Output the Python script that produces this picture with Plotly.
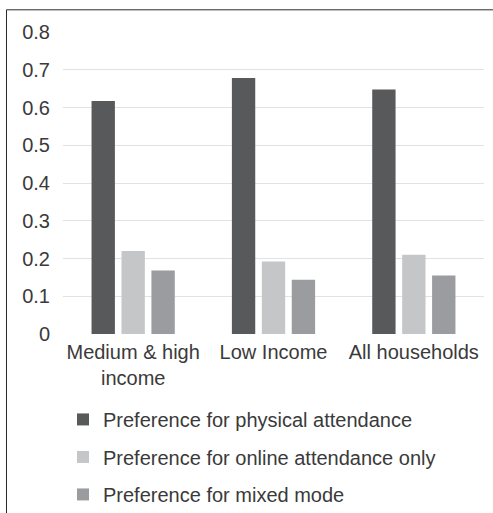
import plotly.graph_objects as go

# Household groups on the x axis
categories = ["Medium & high<br>income", "Low Income", "All households"]

# Share of households by attendance preference
physical = [0.617, 0.678, 0.648]
online_only = [0.220, 0.192, 0.210]
mixed = [0.168, 0.144, 0.155]

series_names = [
    "Preference for physical attendance",
    "Preference for online attendance only",
    "Preference for mixed mode",
]
series_values = [physical, online_only, mixed]
series_colors = ["#58595b", "#c5c6c8", "#9b9c9f"]

y_ticks = [0, 0.1, 0.2, 0.3, 0.4, 0.5, 0.6, 0.7, 0.8]
y_tick_text = ["0", "0.1", "0.2", "0.3", "0.4", "0.5", "0.6", "0.7", "0.8"]

fig = go.Figure()
for i, (name, vals, col) in enumerate(zip(series_names, series_values, series_colors)):
    fig.add_trace(go.Bar(
        x=categories, y=vals, name=name,
        marker=dict(color=col, line=dict(width=0)),
        legendgroup=f"g{i}",
    ))

text_color = "#3a3a3a"
font_family = "Liberation Sans, Arial, sans-serif"

fig.update_layout(
    width=493, height=513,
    margin=dict(l=63, r=9, t=32, b=179, autoexpand=False),
    paper_bgcolor="white", plot_bgcolor="white",
    barmode="group", bargap=0.36, bargroupgap=0.22,
    font=dict(family=font_family, size=20, color=text_color),
    showlegend=True,
    legend=dict(
        orientation="v",
        x=0.0, xanchor="left",
        y=(334 - 400) / 302.3, yanchor="top",
        font=dict(size=20, color=text_color),
        itemwidth=30, tracegroupgap=8.5,
        bgcolor="rgba(0,0,0,0)",
        itemclick=False, itemdoubleclick=False,
    ),
    xaxis=dict(
        showgrid=False, zeroline=False, showline=False, ticks="",
        ticklabelstandoff=4,
        tickfont=dict(size=20, color=text_color),
    ),
    yaxis=dict(
        range=[0, 0.8], tickvals=y_ticks, ticktext=y_tick_text,
        showgrid=True, gridcolor="#e2e2e2", gridwidth=1.3,
        zeroline=False, showline=False, ticks="",
        ticklabelstandoff=12,
        tickfont=dict(size=20, color=text_color),
    ),
    shapes=[dict(
        type="rect", xref="paper", yref="paper",
        x0=(6.5 - 63) / 421, x1=(560 - 63) / 421,
        y0=(334 - 600) / 302.3, y1=(334 - 9.5) / 302.3,
        line=dict(color="#2a2a2a", width=1), fillcolor="rgba(0,0,0,0)",
        layer="below",
    )],
)

fig.write_html("out.html")
